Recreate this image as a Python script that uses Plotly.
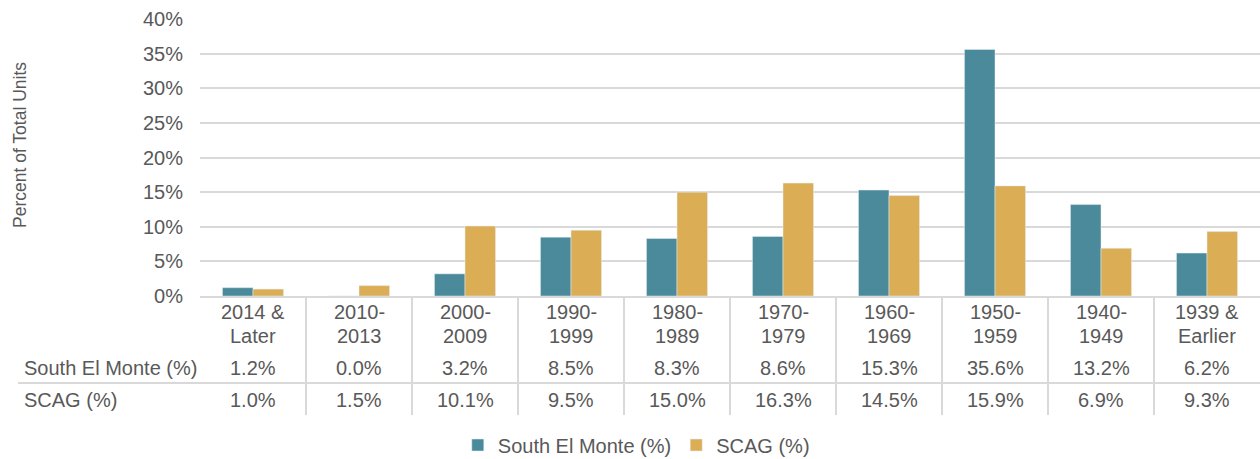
import plotly.graph_objects as go

categories = ["2014 &\nLater", "2010-\n2013", "2000-\n2009", "1990-\n1999", "1980-\n1989",
              "1970-\n1979", "1960-\n1969", "1950-\n1959", "1940-\n1949", "1939 &\nEarlier"]
south_el_monte = [1.2, 0.0, 3.2, 8.5, 8.3, 8.6, 15.3, 35.6, 13.2, 6.2]
scag = [1.0, 1.5, 10.1, 9.5, 15.0, 16.3, 14.5, 15.9, 6.9, 9.3]
series_names = ["South El Monte (%)", "SCAG (%)"]
y_ticks = [0, 5, 10, 15, 20, 25, 30, 35, 40]

TEAL = "#4A8A9A"
GOLD = "#DBAE56"
TXT = "#595959"
LINE = "#D9D9D9"
FONT = "Liberation Sans"
FS = 20

W, H = 1260, 459
L, R, T, B = 200, 0, 19, 163
PH = H - T - B


def py(pix):
    return (H - B - pix) / PH


def px(pix):
    return (pix - L) / (W - L - R)


xidx = list(range(len(categories)))

fig = go.Figure()
fig.add_trace(go.Bar(x=xidx, y=south_el_monte, name=series_names[0], marker_color=TEAL))
fig.add_trace(go.Bar(x=xidx, y=scag, name=series_names[1], marker_color=GOLD))

annotations = []
shapes = []
tf = dict(size=FS, color=TXT, family=FONT)
for i, cat in enumerate(categories):
    l1, l2 = cat.split("\n")
    annotations.append(dict(x=i, y=py(312), xref="x", yref="paper", text=l1, showarrow=False,
                            font=tf, yanchor="middle"))
    annotations.append(dict(x=i, y=py(336), xref="x", yref="paper", text=l2, showarrow=False,
                            font=tf, yanchor="middle"))
    annotations.append(dict(x=i, y=py(368), xref="x", yref="paper", text=f"{south_el_monte[i]:.1f}%",
                            showarrow=False, font=tf, yanchor="middle"))
    annotations.append(dict(x=i, y=py(400), xref="x", yref="paper", text=f"{scag[i]:.1f}%",
                            showarrow=False, font=tf, yanchor="middle"))

annotations.append(dict(x=px(22), y=py(368), xref="paper", yref="paper", text=series_names[0],
                        showarrow=False, xanchor="left", yanchor="middle", font=tf))
annotations.append(dict(x=px(22), y=py(400), xref="paper", yref="paper", text=series_names[1],
                        showarrow=False, xanchor="left", yanchor="middle", font=tf))
annotations.append(dict(x=px(20), y=py(145), xref="paper", yref="paper", text="Percent of Total Units",
                        showarrow=False, textangle=-90, xanchor="center", yanchor="middle",
                        font=dict(size=17.5, color=TXT, family=FONT)))

for i in range(len(categories) - 1):
    shapes.append(dict(type="line", xref="x", yref="paper", x0=i + 0.5, x1=i + 0.5,
                       y0=py(297), y1=py(415), line=dict(color=LINE, width=2)))
shapes.append(dict(type="line", xref="paper", yref="paper", x0=px(18), x1=1,
                   y0=py(383), y1=py(383), line=dict(color=LINE, width=2)))

fig.update_layout(
    width=W, height=H,
    margin=dict(l=L, r=R, t=T, b=B, autoexpand=False),
    paper_bgcolor="white", plot_bgcolor="white",
    barmode="group", bargap=0.424, bargroupgap=0,
    font=dict(family=FONT, size=FS, color=TXT),
    showlegend=True,
    legend=dict(orientation="h", xref="container", yref="container", x=0.505, y=1 - 445 / H,
                xanchor="center", yanchor="middle", font=tf, itemwidth=30),
    annotations=annotations,
    shapes=shapes,
    xaxis=dict(range=[-0.5, len(categories) - 0.5], showticklabels=False, showgrid=False,
               showline=True, linecolor=LINE, linewidth=2, zeroline=False, fixedrange=True),
    yaxis=dict(range=[0, 40], tickvals=y_ticks, ticktext=[f"{v}%" for v in y_ticks],
               showgrid=True, gridcolor=LINE, gridwidth=2, zeroline=False, showline=False,
               ticks="", ticklabelstandoff=16, tickfont=tf),
)

fig.write_html("out.html", config={"displayModeBar": False},
               post_script="document.body.style.margin='0';document.body.style.overflow='hidden';")
